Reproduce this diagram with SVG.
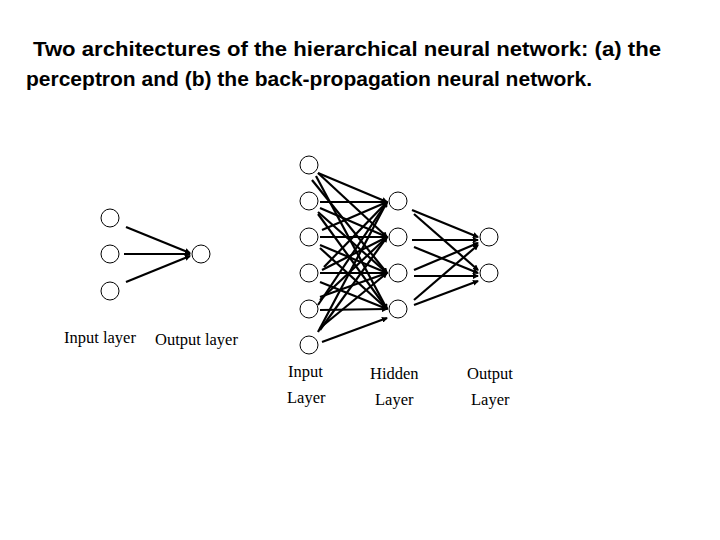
<svg xmlns="http://www.w3.org/2000/svg" width="720" height="540" viewBox="0 0 720 540">
<style>
.n{fill:#fff;stroke:#000;stroke-width:1}
.c line{stroke:#000;stroke-width:2.2;marker-end:url(#a)}
.t{font-family:"Liberation Sans",sans-serif;font-size:21px;font-weight:bold}
.l{font-family:"Liberation Serif",serif;font-size:16.5px}
</style>
<defs><marker id="a" markerWidth="6" markerHeight="6" refX="5" refY="3" orient="auto" markerUnits="userSpaceOnUse"><path d="M0,0L6,3L0,6z"/></marker></defs>
<rect width="720" height="540" fill="#fff"/>
<text class="t" x="33" y="56" textLength="628" lengthAdjust="spacingAndGlyphs">Two architectures of the hierarchical neural network: (a) the</text>
<text class="t" x="26" y="86" textLength="566" lengthAdjust="spacingAndGlyphs">perceptron and (b) the back-propagation neural network.</text>
<g class="c" id="connectors">
<line x1="126" y1="227" x2="190" y2="253"/><line x1="124" y1="254" x2="190" y2="254"/><line x1="126" y1="282" x2="190" y2="256"/>
<line x1="318" y1="173" x2="387" y2="202"/><line x1="318" y1="173" x2="387" y2="237"/><line x1="312" y1="180" x2="387" y2="273"/><line x1="316" y1="176" x2="387" y2="309"/>
<line x1="320" y1="202" x2="387" y2="202"/><line x1="320" y1="208" x2="387" y2="237"/><line x1="318" y1="212" x2="387" y2="273"/><line x1="318" y1="214" x2="387" y2="309"/>
<line x1="322" y1="230" x2="387" y2="202"/><line x1="320" y1="237" x2="387" y2="237"/><line x1="320" y1="245" x2="387" y2="273"/><line x1="320" y1="248" x2="387" y2="309"/>
<line x1="324" y1="267" x2="387" y2="202"/><line x1="322" y1="270" x2="387" y2="237"/><line x1="320" y1="273" x2="387" y2="273"/><line x1="320" y1="282" x2="387" y2="309"/>
<line x1="318" y1="305" x2="387" y2="202"/><line x1="320" y1="300" x2="387" y2="237"/><line x1="320" y1="297" x2="387" y2="273"/><line x1="320" y1="310" x2="387" y2="309"/>
<line x1="318" y1="332" x2="387" y2="202"/><line x1="320" y1="330" x2="387" y2="237"/><line x1="320" y1="328" x2="387" y2="273"/><line x1="322" y1="342" x2="387" y2="318"/>
<line x1="412" y1="210" x2="478" y2="237"/><line x1="414" y1="214" x2="478" y2="270"/>
<line x1="412" y1="240" x2="478" y2="240"/><line x1="414" y1="247" x2="478" y2="273"/>
<line x1="414" y1="270" x2="478" y2="243"/><line x1="414" y1="276" x2="478" y2="276"/>
<line x1="414" y1="300" x2="478" y2="245"/><line x1="414" y1="305" x2="478" y2="281"/>
</g>
<g id="a-in1"><circle class="n" cx="110" cy="218" r="9"/></g>
<g id="a-in2"><circle class="n" cx="110" cy="254" r="9"/></g>
<g id="a-in3"><circle class="n" cx="110" cy="291" r="9"/></g>
<g id="a-out"><circle class="n" cx="201" cy="254" r="9"/></g>
<g id="b-in1"><circle class="n" cx="309" cy="165" r="9"/></g>
<g id="b-in2"><circle class="n" cx="309" cy="201" r="9"/></g>
<g id="b-in3"><circle class="n" cx="309" cy="237" r="9"/></g>
<g id="b-in4"><circle class="n" cx="309" cy="273" r="9"/></g>
<g id="b-in5"><circle class="n" cx="309" cy="309" r="9"/></g>
<g id="b-in6"><circle class="n" cx="309" cy="345" r="9"/></g>
<g id="b-h1"><circle class="n" cx="398" cy="201" r="9"/></g>
<g id="b-h2"><circle class="n" cx="398" cy="237" r="9"/></g>
<g id="b-h3"><circle class="n" cx="398" cy="273" r="9"/></g>
<g id="b-h4"><circle class="n" cx="398" cy="309" r="9"/></g>
<g id="b-o1"><circle class="n" cx="489" cy="237" r="9"/></g>
<g id="b-o2"><circle class="n" cx="489" cy="273" r="9"/></g>
<text class="l" x="64" y="343">Input layer</text>
<text class="l" x="155" y="345">Output layer</text>
<text class="l" x="288" y="377">Input</text>
<text class="l" x="287" y="403">Layer</text>
<text class="l" x="370" y="379">Hidden</text>
<text class="l" x="375" y="405">Layer</text>
<text class="l" x="467" y="379">Output</text>
<text class="l" x="471" y="405">Layer</text>
</svg>
